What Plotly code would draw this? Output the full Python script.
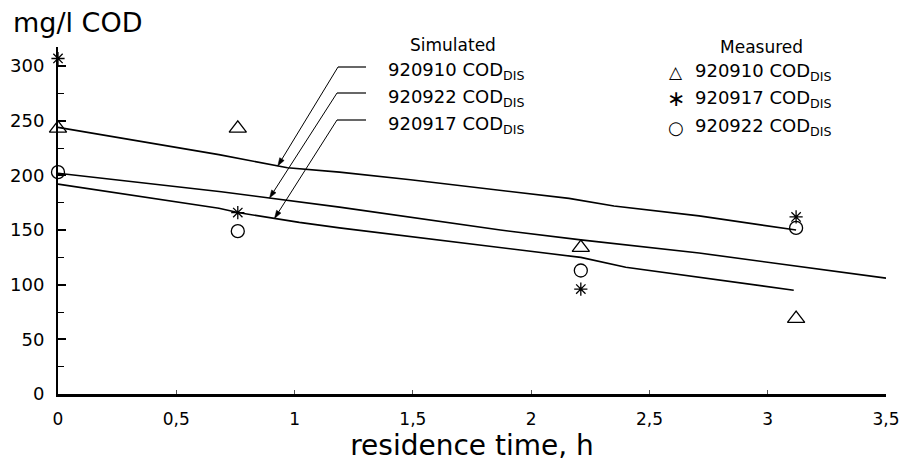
import numpy as np
import plotly.graph_objects as go

# ---------------- data ----------------
meas_t = [0.0, 0.76, 2.21, 3.12]
meas_910 = [243, 243, 134, 69]      # triangles
meas_917 = [307, 166, 96, 162]      # asterisks
meas_922 = [203, 149, 113, 152]     # circles

sim910_t = [0.0, 0.68, 0.97, 1.19, 1.49, 2.16, 2.35, 2.71, 3.12]
sim910_y = [244, 219, 207, 203, 196, 179, 172, 163, 150]
sim922_t = [0.0, 0.69, 1.19, 1.87, 2.21, 2.71, 3.5]
sim922_y = [202, 185, 171, 150, 141, 129, 106]
sim917_t = [0.0, 0.68, 0.76, 1.02, 1.19, 1.87, 2.21, 2.4, 3.11]
sim917_y = [192, 170, 166, 157, 152, 134, 125, 116, 95]

x_ticks = [0, 0.5, 1, 1.5, 2, 2.5, 3, 3.5]
x_ticktext = ["0", "0,5", "1", "1,5", "2", "2,5", "3", "3,5"]
y_ticks = [0, 50, 100, 150, 200, 250, 300]

sim_names = ["920910", "920922", "920917"]
meas_names = ["920910", "920917", "920922"]

FONT = "DejaVu Sans"
W, H = 905, 469
ML, MR, MT, MB = 58, 19, 47, 75
X_RANGE = [0, 3.5]
Y_RANGE = [0, 317.5]
PX_W = (W - ML - MR) / (X_RANGE[1] - X_RANGE[0])
PX_H = (H - MB - MT) / (Y_RANGE[1] - Y_RANGE[0])


def px_to_paper(px, py):
    return (px - ML) / (W - ML - MR), (H - MB - py) / (H - MB - MT)


def px_to_data(px, py):
    return X_RANGE[0] + (px - ML) / PX_W, Y_RANGE[0] + (H - MB - py) / PX_H


def data_to_px(t, y):
    return ML + (t - X_RANGE[0]) * PX_W, H - MB - (y - Y_RANGE[0]) * PX_H


fig = go.Figure()

for t, y in [(sim910_t, sim910_y), (sim922_t, sim922_y), (sim917_t, sim917_y)]:
    fig.add_trace(go.Scatter(x=t, y=y, mode="lines",
                             line=dict(color="black", width=1.6),
                             showlegend=False, cliponaxis=False, hoverinfo="skip"))

mk = dict(color="black", line=dict(color="black", width=1.3))
fig.add_trace(go.Scatter(x=meas_t, y=meas_910, mode="markers", cliponaxis=False, showlegend=False,
                         marker=dict(symbol="triangle-up-open", size=15, **mk)))
fig.add_trace(go.Scatter(x=meas_t, y=meas_917, mode="markers", cliponaxis=False, showlegend=False,
                         marker=dict(symbol="asterisk-open", size=11, **mk)))
fig.add_trace(go.Scatter(x=meas_t, y=meas_922, mode="markers", cliponaxis=False, showlegend=False,
                         marker=dict(symbol="circle-open", size=13, **mk)))

annotations = []
shapes = []

# y-axis title
x0, y0 = px_to_paper(11, 22)
annotations.append(dict(x=x0, y=y0, xref="paper", yref="paper", xanchor="left", yanchor="middle",
                        text="mg/l COD", showarrow=False, font=dict(family=FONT, size=27, color="black")))

# Simulated legend header and labels
x0, y0 = px_to_paper(453, 45)
annotations.append(dict(x=x0, y=y0, xref="paper", yref="paper", xanchor="center", yanchor="middle",
                        text="Simulated", showarrow=False, font=dict(family=FONT, size=17, color="black")))
sim_rows_py = [71, 98, 125]
for name, py in zip(sim_names, sim_rows_py):
    x0, y0 = px_to_paper(386, py)
    annotations.append(dict(x=x0, y=y0, xref="paper", yref="paper", xanchor="left", yanchor="middle",
                            text=name + " COD<sub>DIS</sub>", showarrow=False,
                            font=dict(family=FONT, size=18, color="black")))

# leader arrows for simulated curves (drawn as shapes)
sim_curves = [(sim910_t, sim910_y), (sim922_t, sim922_y), (sim917_t, sim917_y)]
tip_t = [0.929, 0.894, 0.915]
tail_px = [(338, 67), (337, 93), (337, 120)]
for (ct, cy), tt, (tx, ty) in zip(sim_curves, tip_t, tail_px):
    tip_y = float(np.interp(tt, ct, cy))
    tpx, tpy = data_to_px(tt, tip_y)
    dx, dy = tpx - tx, tpy - ty
    L = (dx * dx + dy * dy) ** 0.5
    ux, uy = dx / L, dy / L
    nx, ny = -uy, ux
    head_len, head_w = 8.0, 2.6
    bx, by = tpx - ux * head_len, tpy - uy * head_len
    # shaft
    t0, y0d = px_to_data(tx, ty)
    t1, y1d = px_to_data(bx, by)
    shapes.append(dict(type="line", xref="x", yref="y", x0=t0, y0=y0d, x1=t1, y1=y1d,
                       line=dict(color="black", width=1)))
    # horizontal lead
    te, _ = px_to_data(366, ty)
    shapes.append(dict(type="line", xref="x", yref="y", x0=t0, y0=y0d, x1=te, y1=y0d,
                       line=dict(color="black", width=1.2)))
    # arrowhead
    p1 = px_to_data(tpx, tpy)
    p2 = px_to_data(bx + nx * head_w, by + ny * head_w)
    p3 = px_to_data(bx - nx * head_w, by - ny * head_w)
    path = "M {},{} L {},{} L {},{} Z".format(p1[0], p1[1], p2[0], p2[1], p3[0], p3[1])
    shapes.append(dict(type="path", xref="x", yref="y", path=path,
                       fillcolor="black", line=dict(color="black", width=0.5)))

# Measured legend
x0, y0 = px_to_paper(761, 47)
annotations.append(dict(x=x0, y=y0, xref="paper", yref="paper", xanchor="center", yanchor="middle",
                        text="Measured", showarrow=False, font=dict(family=FONT, size=17, color="black")))
meas_rows_py = [72, 99, 127]
glyphs = ["\u25B3", "\u2217", "\u25CB"]
glyph_sizes = [17, 22, 18]
for name, py, g, gs in zip(meas_names, meas_rows_py, glyphs, glyph_sizes):
    gx, gy = px_to_paper(676, py)
    annotations.append(dict(x=gx, y=gy, xref="paper", yref="paper", xanchor="center", yanchor="middle",
                            text=g, showarrow=False, font=dict(family=FONT, size=gs, color="black")))
    x0, y0 = px_to_paper(693, py)
    annotations.append(dict(x=x0, y=y0, xref="paper", yref="paper", xanchor="left", yanchor="middle",
                            text=name + " COD<sub>DIS</sub>", showarrow=False,
                            font=dict(family=FONT, size=18, color="black")))

fig.update_layout(
    width=W, height=H,
    margin=dict(l=ML, r=MR, t=MT, b=MB, autoexpand=False),
    paper_bgcolor="white", plot_bgcolor="white",
    font=dict(family=FONT, size=17, color="black"),
    annotations=annotations, shapes=shapes,
    showlegend=False,
)

fig.update_xaxes(
    range=X_RANGE, tickvals=x_ticks, ticktext=x_ticktext,
    automargin=False,
    showgrid=False, zeroline=False,
    showline=True, linecolor="black", linewidth=2.5,
    ticks="inside", ticklen=4, tickwidth=1, tickcolor="#555",
    tickfont=dict(family=FONT, size=17, color="black"),
    ticklabelstandoff=8,
    title=dict(text="residence time, h", font=dict(family=FONT, size=28, color="black"), standoff=0),
)
fig.update_yaxes(
    range=Y_RANGE, tickvals=y_ticks,
    automargin=False,
    showgrid=False, zeroline=False,
    showline=True, linecolor="black", linewidth=2,
    ticks="inside", ticklen=8, tickwidth=1.5, tickcolor="black",
    minor=dict(tickvals=[25, 75, 125, 175, 225, 275], ticks="inside", ticklen=6, tickwidth=1.2, tickcolor="black"),
    tickfont=dict(family=FONT, size=18, color="black"),
    ticklabelstandoff=8,
)

fig.write_html("out.html", config={"displayModeBar": False},
               post_script="document.body.style.margin='0';document.body.style.padding='0';")
